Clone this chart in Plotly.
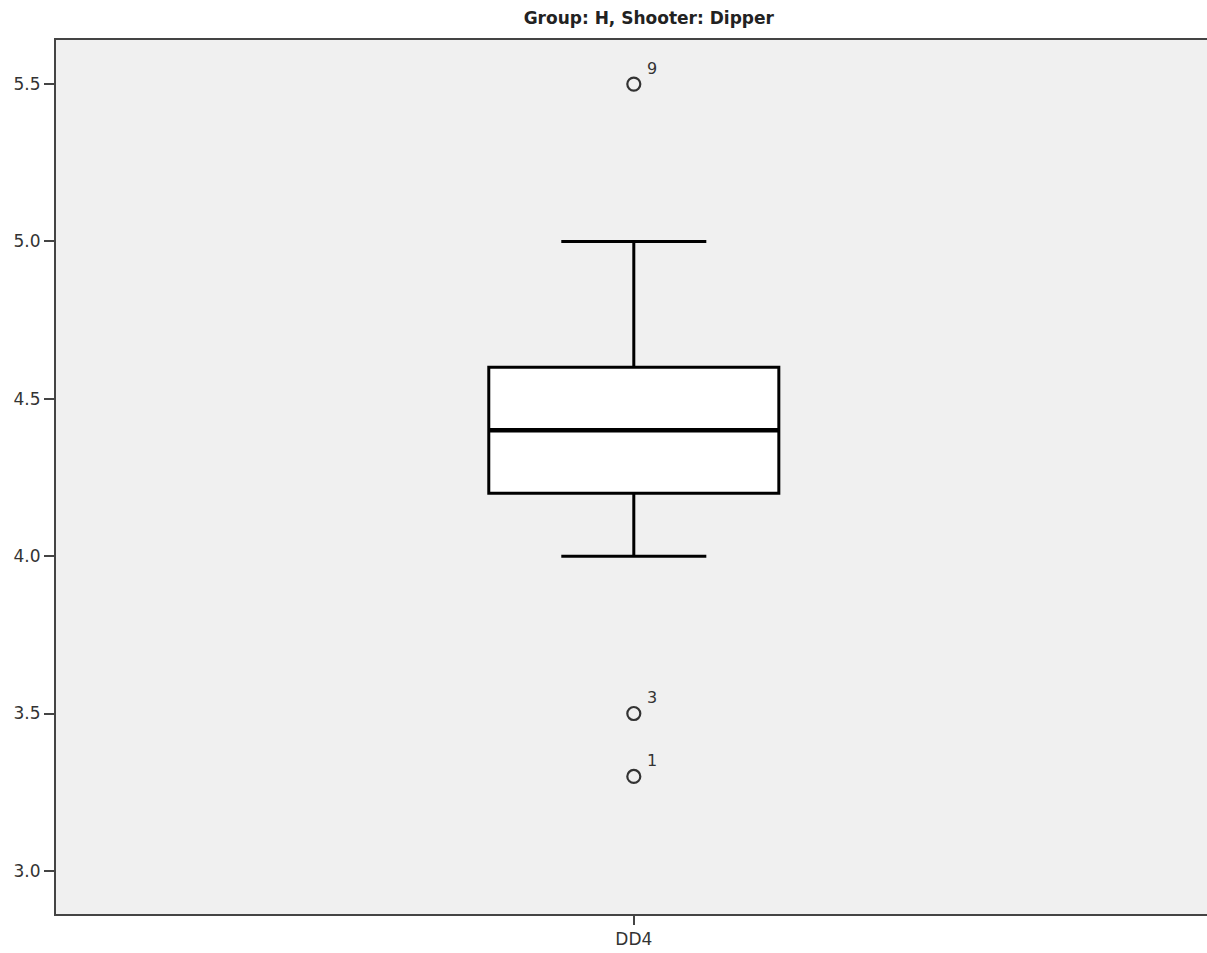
import plotly.graph_objects as go

category = ["DD4"]
q1 = [4.2]
median = [4.4]
q3 = [4.6]
lower_whisker = [4.0]
upper_whisker = [5.0]
outlier_values = [5.5, 3.5, 3.3]
outlier_labels = ["9", "3", "1"]
y_ticks = [3.0, 3.5, 4.0, 4.5, 5.0, 5.5]

BOX_WIDTH = 0.252
FONT = "DejaVu Sans"

fig = go.Figure()
fig.add_trace(go.Box(
    x=category, q1=q1, median=median, q3=q3,
    lowerfence=lower_whisker, upperfence=upper_whisker,
    width=BOX_WIDTH, whiskerwidth=0.5,
    fillcolor="white", line=dict(color="black", width=3),
    boxpoints=False, showlegend=False, hoverinfo="skip",
))
# thicker median line, as in the reference
fig.add_shape(type="line", xref="x", yref="y",
              x0=-BOX_WIDTH / 2, x1=BOX_WIDTH / 2, y0=median[0], y1=median[0],
              line=dict(color="black", width=4.5), layer="above")
fig.add_trace(go.Scatter(
    x=category * len(outlier_values), y=outlier_values, mode="markers",
    marker=dict(symbol="circle-open", size=13, color="#333333", line=dict(width=2.2)),
    showlegend=False, hoverinfo="skip",
))
for v, lab in zip(outlier_values, outlier_labels):
    fig.add_annotation(x=category[0], y=v, text=lab, showarrow=False,
                       xshift=18, yshift=16,
                       font=dict(family=FONT, size=16, color="#333333"))

fig.update_layout(
    width=1207, height=953,
    margin=dict(l=56, r=0, t=40, b=39),
    paper_bgcolor="white", plot_bgcolor="#F0F0F0",
    title=dict(text="<b>Group: H, Shooter: Dipper</b>", xref="paper", x=0.515,
               xanchor="center", y=0.981, yanchor="middle",
               font=dict(family=FONT, size=17, color="#222222")),
    font=dict(family=FONT, size=17, color="#333333"),
)
fig.update_xaxes(
    type="category", range=[-0.502, 0.498], showgrid=False, zeroline=False,
    showline=True, linecolor="#444444", linewidth=2, mirror=True,
    ticks="outside", ticklen=9, tickcolor="#444444", tickwidth=2,
    tickfont=dict(size=17, color="#333333"),
)
fig.update_yaxes(
    range=[2.863, 5.64], tickvals=y_ticks, ticktext=[f"{t:.1f}" for t in y_ticks],
    showgrid=False, zeroline=False,
    showline=True, linecolor="#444444", linewidth=2,
    ticks="outside", ticklen=10, tickcolor="#444444", tickwidth=2,
    tickfont=dict(size=17, color="#333333"),
)
fig.write_html("out.html", config={"displayModeBar": False},
               post_script="document.body.style.margin='0';")
